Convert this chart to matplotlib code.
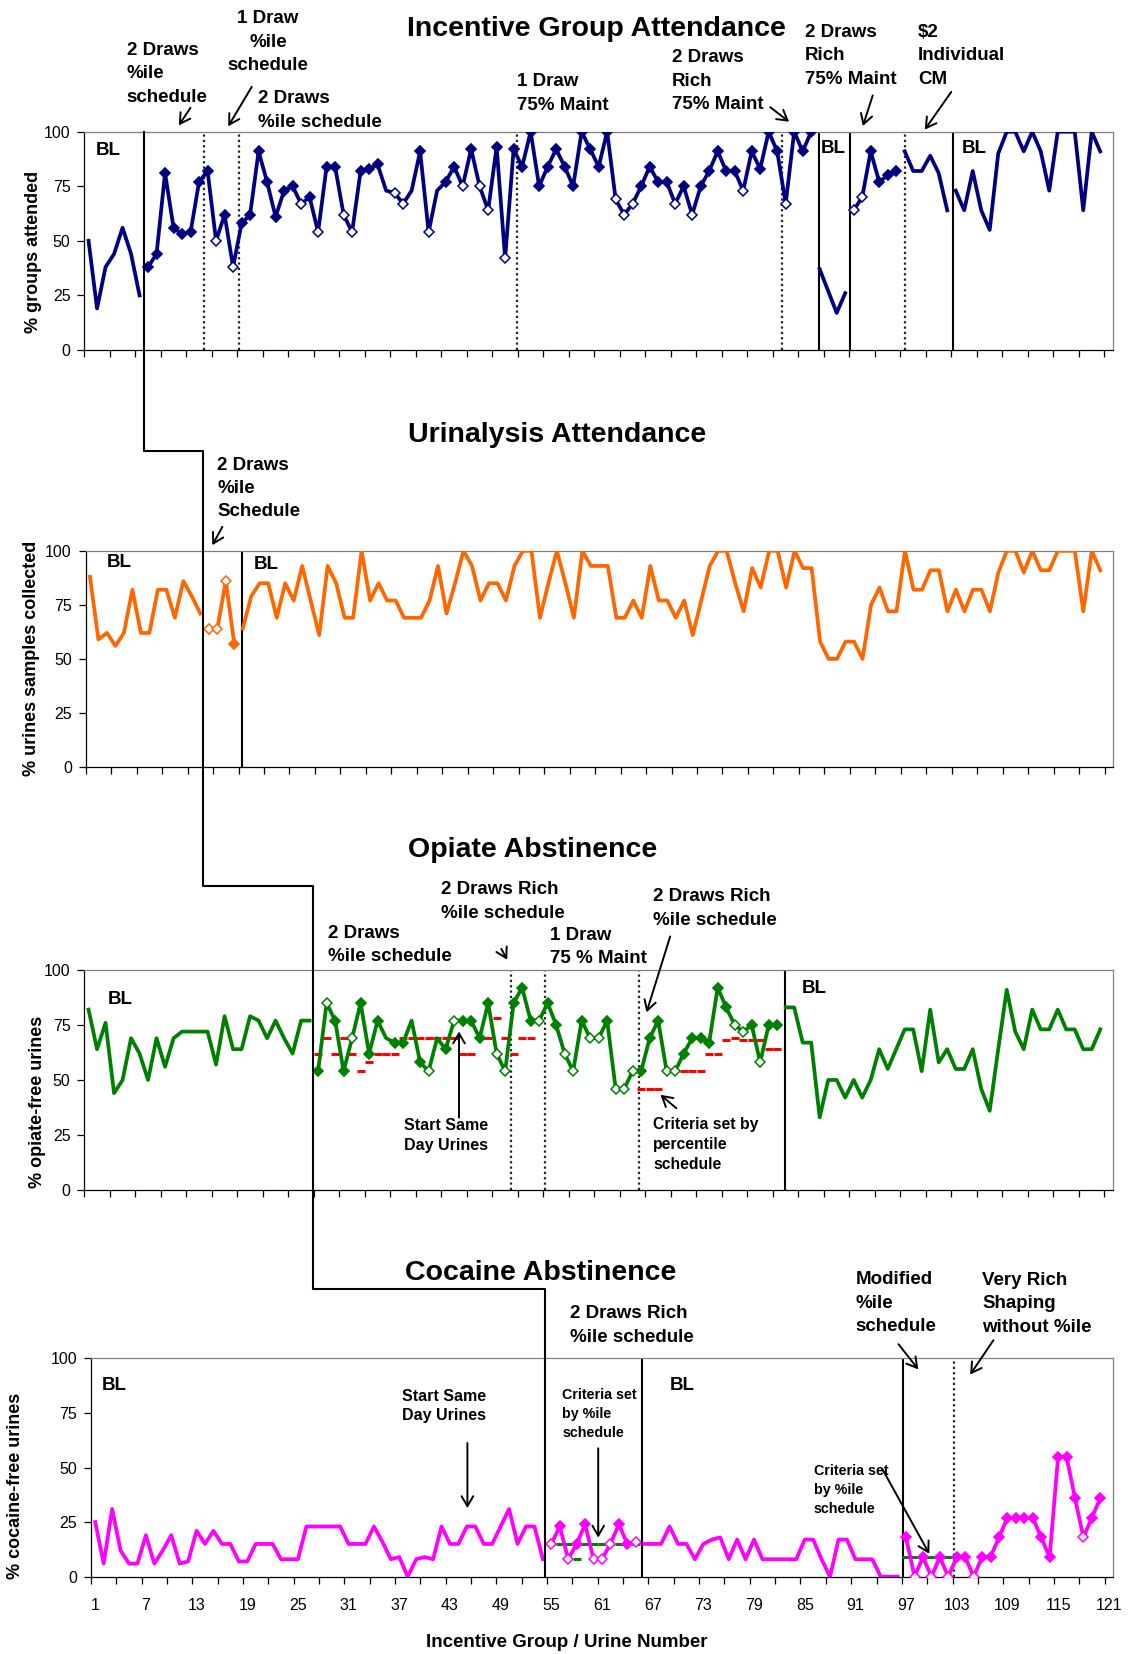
import numpy as np
import matplotlib
matplotlib.use("Agg")
import matplotlib.pyplot as plt
from matplotlib.lines import Line2D
from matplotlib.patches import FancyArrowPatch

plt.rcParams.update({
    "font.family": ["Liberation Sans", "DejaVu Sans"],
    "font.size": 11.5,
    "axes.linewidth": 0.9,
})

W, H = 1129, 1654
sessions = np.arange(1, 121)

# ---------------- data ----------------
# incentive group attendance (% of groups attended)
groups = [50, 19, 38, 44, 56, 44, 25,
          38, 44, 81, 56, 53, 54, 77, 82, 50, 62, 38, 58, 62, 91, 77, 61, 73, 75,
          67, 70, 54, 84, 84, 62, 54, 82, 83, 85, 73, 72, 67, 73, 91, 54, 73, 77,
          84, 75, 92, 75, 64, 93, 42, 92, 84, 100, 75, 84, 92, 84, 75, 100, 92, 84,
          100, 69, 62, 67, 75, 84, 77, 77, 67, 75, 62, 75, 82, 91, 82, 82, 73, 91,
          83, 100, 91, 67, 100, 91, 100,
          37, 27, 17, 26,
          64, 70, 91, 77, 80, 82,
          91, 82, 82, 89, 81, 64,
          73, 64, 82, 64, 55, 90, 100, 100, 91, 100, 91, 73, 100, 100, 100, 64, 100, 91]
groups_marks = ("......." + "FFFFFFFF" + "OFO" + "FFFFFFF" + "OFOFFOO" + "FFF.OO.FO."
                + "FFOFOOFO" + "FFFFFFFFFFFF" + "OOO" + "FFFFOFO" + "FFFFFOFFFF" + "OFFF"
                + "...." + "OOFFFF" + "......" + "." * 18)
groups_segments = [(1, 7), (8, 86), (87, 90), (91, 96), (97, 102), (103, 120)]

# urinalysis attendance (% urine samples collected)
urines = [88, 59, 62, 56, 62, 82, 62, 62, 82, 82, 69, 86, 79, 71,
          64, 64, 86, 57,
          64, 79, 85, 85, 69, 85, 77, 93, 77, 61, 93, 85, 69, 69, 100, 77, 85, 77,
          77, 69, 69, 69, 77, 93, 71, 85, 100, 93, 77, 85, 85, 77, 93, 100, 100, 69,
          85, 100, 85, 69, 100, 93, 93,
          93, 69, 69, 77, 69, 93, 77, 77, 69, 77, 61, 77, 93, 100, 100, 85, 72, 92,
          83, 100, 100, 83, 100, 92, 92, 58, 50, 50, 58, 58, 50, 75, 83, 72, 72, 100,
          82, 82, 91, 91, 72, 82, 72, 82, 82, 72, 90, 100, 100, 90, 100, 91, 91, 100,
          100, 100, 72, 100, 91]
urines_marks = "." * 14 + "OOOF" + "." * 102
urines_segments = [(1, 14), (15, 18), (19, 120)]

# opiate abstinence (% opiate-free urines)
opiate = [82, 64, 76, 44, 50, 69, 62, 50, 69, 56, 69, 72, 72, 72, 72, 57, 79, 64,
          64, 79, 77, 69, 77, 69, 62, 77, 77,
          54, 85, 77, 54, 69, 85, 62, 77, 69, 67, 67, 77, 58, 54, 69, 64, 77, 77,
          77, 69, 85, 62, 54, 85, 92, 77, 77, 85, 75, 62, 54, 77, 69, 69, 77, 46,
          46, 54, 54, 69, 77, 54, 54, 62, 69, 69, 67, 92, 83, 75, 72, 75, 58, 75, 75,
          83, 83, 67, 67, 33, 50, 50, 42, 50, 42, 50, 64, 55, 64, 73, 73, 54, 82, 58,
          64, 55, 55, 64, 46, 36, 64, 91, 72, 64, 82, 73, 73, 82, 73, 73, 64, 64, 73]
opiate_marks = ("." * 27 + "FOFFOFFF.FF.FO.FO" + "FFFFOOFFFO" + "FFOOFOOFOOO"
                + "FFFOOFFFFFFOOFOFF" + "." * 38)
opiate_segments = [(1, 27), (28, 82), (83, 120)]
# percentile criterion for opiate-free urines (sessions 28-54, 66-82)
opiate_criteria = ([None] * 27
                   + [62, 69, 62, 69, 62, 54, 58, 62, 62, 62, 69, 69, 69, 69, 69, 69, 69,
                      62, 62, 69, 69, 78, 69, 62, 69, 69, None]
                   + [None] * 11
                   + [46, 46, 46, None, None, 54, 54, 54, 62, 62, 68, 69, 68, 68, 68, 64, 64]
                   + [None] * 38)

# cocaine abstinence (% cocaine-free urines)
cocaine = [25, 6, 31, 12, 6, 6, 19, 6, 12, 19, 6, 7, 21, 15, 21, 15, 15, 7, 7, 15,
           15, 15, 8, 8, 8, 23, 23, 23, 23, 23, 15, 15, 15, 23, 16, 8, 9, 0, 8, 9,
           8, 23, 15, 15, 23, 23, 15, 15, 23, 31, 15, 23, 23, 8,
           15, 23, 8, 15, 24, 8, 8, 15, 24, 15, 16,
           15, 15, 15, 23, 15, 15, 8, 15, 17, 18, 8, 17, 8, 17, 8, 8, 8, 8, 8, 17,
           17, 8, 0, 17, 17, 8, 8, 8, 0, 0, 0,
           18, 0, 9, 0, 9, 0, 9, 9, 0, 9, 9, 18, 27, 27, 27, 27, 18, 9, 55, 55, 36,
           18, 27, 36]
cocaine_marks = ("." * 54 + "OFOFFOOOFFO" + "." * 31 + "FOFOFOFFOFFFFFFFFFFFFOFF")
cocaine_segments = [(1, 54), (55, 65), (66, 96), (97, 120)]
cocaine_criteria = ([None] * 54 + [15, 15, 15, 8, 15, 15, 15, 15, 15, 15, 15]
                    + [None] * 31 + [9, 9, 9, 9, 9, 9] + [None] * 18)

xlabels = list(range(1, 122, 6))

# ---------------- figure ----------------
fig = plt.figure(figsize=(W / 100, H / 100), dpi=100)


def make_axes(left, top, right, bottom):
    return fig.add_axes([left / W, 1 - bottom / H, (right - left) / W, (bottom - top) / H])


def fx(ax, x):
    disp = ax.transData.transform((x, 0))
    return fig.transFigure.inverted().transform(disp)[0]


def fpx(px, py):
    return px / W, 1 - py / H


def note(px, py, s, size=13.5, ha="left", ls=1.5, **kw):
    fig.text(*fpx(px, py), s, ha=ha, va="center", fontsize=size,
             fontweight="bold", linespacing=ls, **kw)


def arrow(x0, y0, x1, y1):
    fig.add_artist(FancyArrowPatch(fpx(x0, y0), fpx(x1, y1), transform=fig.transFigure,
                                   arrowstyle="->,head_length=0.6,head_width=0.35",
                                   mutation_scale=12, lw=1.4, color="black"))


def style(ax, labels=False):
    ax.set_xlim(0.5, 121.5)
    ax.set_ylim(0, 100)
    ax.set_yticks([0, 25, 50, 75, 100])
    ax.set_xticks(np.arange(0.5, 121.6, 3))
    ax.tick_params(axis="both", which="major", direction="out", length=5, width=0.9,
                   labelsize=11.5, pad=5)
    ax.tick_params(axis="x", labelbottom=False)
    for side in ("top", "right"):
        ax.spines[side].set_color("#808080")
    if labels:
        ax.set_xticks(xlabels, [str(v) for v in xlabels], minor=True)
        ax.tick_params(axis="x", which="minor", length=0, labelsize=11.5, pad=15,
                       labelbottom=True)


def draw_series(ax, values, marks, segments, color):
    y = np.array(values, dtype=float)
    for a, b in segments:
        ax.plot(sessions[a - 1:b], y[a - 1:b], color=color, lw=2.7, zorder=3)
    marks = np.array(list(marks))
    f = marks == "F"
    o = marks == "O"
    ax.plot(sessions[f], y[f], "D", ms=5.6, mfc=color, mec=color, mew=1.2, zorder=4)
    ax.plot(sessions[o], y[o], "D", ms=5.6, mfc="white", mec=color, mew=1.1, zorder=4)


def draw_criteria(ax, values, color):
    y = np.array([np.nan if v is None else v for v in values], dtype=float)
    ax.plot(sessions, y, "_", ms=5.5, mew=2.2, color=color, zorder=2)


def phase(ax, x, dotted=False):
    if dotted:
        ax.axvline(x, color="#222222", lw=1.6, ls=(0, (1, 1.4)), zorder=1)
    else:
        ax.axvline(x, color="black", lw=1.5, zorder=1)


ax1 = make_axes(84.3, 131.7, 1113, 350)
ax2 = make_axes(85.7, 550.8, 1113, 767)
ax3 = make_axes(84.3, 970, 1113, 1190)
ax4 = make_axes(91, 1358.3, 1113, 1576.7)

for ax in (ax1, ax2, ax3):
    style(ax)
style(ax4, labels=True)

draw_series(ax1, groups, groups_marks, groups_segments, "#000080")
draw_series(ax2, urines, urines_marks, urines_segments, "#FF6600")
draw_series(ax3, opiate, opiate_marks, opiate_segments, "#008000")
draw_series(ax4, cocaine, cocaine_marks, cocaine_segments, "#FF00FF")
draw_criteria(ax3, opiate_criteria, "#FF0000")
draw_criteria(ax4, cocaine_criteria, "#008000")

for x in (14.6, 18.7, 51.4, 82.6, 97.0):
    phase(ax1, x, dotted=True)
for x in (86.9, 90.6, 102.7):
    phase(ax1, x)
phase(ax2, 18.9)
for x in (50.7, 54.7, 65.8):
    phase(ax3, x, dotted=True)
phase(ax3, 82.9)
for x in (65.7, 96.6):
    phase(ax4, x)
phase(ax4, 102.7, dotted=True)

# multiple-baseline staircase linking the first phase change of each panel
xa, xb, xc, xd = fx(ax1, 7.5), fx(ax2, 14.3), fx(ax3, 27.4), fx(ax4, 54.3)
ya, yb, yc = 1 - 450.5 / H, 1 - 886.3 / H, 1 - 1289.3 / H
fig.add_artist(Line2D([xa, xa, xb, xb, xc, xc, xd, xd],
                      [1 - 131.7 / H, ya, ya, yb, yb, yc, yc, 1 - 1576.7 / H],
                      transform=fig.transFigure, color="black", lw=1.5))

# titles and axis labels
for px, py, s in [(596, 29.5, "Incentive Group Attendance"),
                  (557, 434.7, "Urinalysis Attendance"),
                  (533, 850.4, "Opiate Abstinence"),
                  (541, 1272.5, "Cocaine Abstinence")]:
    note(px, py, s, size=20.5, ha="center")

for px, py, s in [(33.8, 252, "% groups attended"),
                  (31.7, 658, "% urines samples collected"),
                  (38, 1102, "% opiate-free urines"),
                  (15.8, 1486, "% cocaine-free urines")]:
    fig.text(*fpx(px, py), s, rotation=90, ha="center", va="center",
             fontsize=13, fontweight="bold")
note(566.6, 1642.8, "Incentive Group / Urine Number", ha="center")

# baseline labels
for px, py in [(108.7, 150.9), (833.5, 148.8), (973.9, 148.8), (119.2, 562.4),
               (265.9, 564.5), (120.3, 999.2), (814.5, 988.6), (114, 1385.3),
               (682.6, 1385.3)]:
    note(px, py, "BL", ha="center")

# phase annotations: incentive groups
note(126.6, 73.9, "2 Draws\n%ile\nschedule")
note(268, 42.2, "1 Draw\n%ile\nschedule", ha="center")
note(258.5, 110.3, "2 Draws\n%ile schedule")
note(517, 93.4, "1 Draw\n75% Maint")
note(672, 81.2, "2 Draws\nRich\n75% Maint")
note(805, 55.9, "2 Draws\nRich\n75% Maint")
note(918, 55.9, "$2\nIndividual\nCM")
arrow(192, 105.5, 177.3, 127.7)
arrow(253.2, 84.4, 226.8, 128.7)
arrow(768, 105.5, 791.3, 123.4)
arrow(873.6, 92.8, 862, 128.7)
arrow(952.8, 89.7, 923.2, 131.9)

# urinalysis
note(217.3, 488.5, "2 Draws\n%ile\nSchedule")
arrow(223.7, 524.4, 211, 547.6)

# opiate
note(328, 944.8, "2 Draws\n%ile schedule")
note(441, 901.6, "2 Draws Rich\n%ile schedule")
note(549.7, 947, "1 Draw\n75 % Maint")
note(653, 908.4, "2 Draws Rich\n%ile schedule")
arrow(500, 946.4, 508.5, 962.2)
arrow(671, 933.8, 645.7, 1015)
note(404, 1135.8, "Start Same\nDay Urines", size=11.5, ls=1.4)
arrow(459, 1120.5, 459, 1028.7)
note(653, 1144.8, "Criteria set by\npercentile\nschedule", size=11.3, ls=1.4)
arrow(678.4, 1110, 658.4, 1093)

# cocaine
note(569.8, 1325.7, "2 Draws Rich\n%ile schedule")
note(855.7, 1303, "Modified\n%ile\nschedule")
arrow(896.8, 1342, 920, 1371.6)
note(982.3, 1304, "Very Rich\nShaping\nwithout %ile")
arrow(995, 1337.9, 968.6, 1376.9)
note(402, 1406, "Start Same\nDay Urines", size=11.5, ls=1.4)
arrow(467.4, 1440.2, 467.4, 1510.9)
note(562.4, 1413.8, "Criteria set\nby %ile\nschedule", size=10.3, ls=1.45)
arrow(598.2, 1445.5, 598.2, 1540.4)
note(813.5, 1489.8, "Criteria set\nby %ile\nschedule", size=10.3, ls=1.45)
arrow(881, 1466.6, 930.6, 1556.2)

fig.savefig("out.png", dpi=100)
